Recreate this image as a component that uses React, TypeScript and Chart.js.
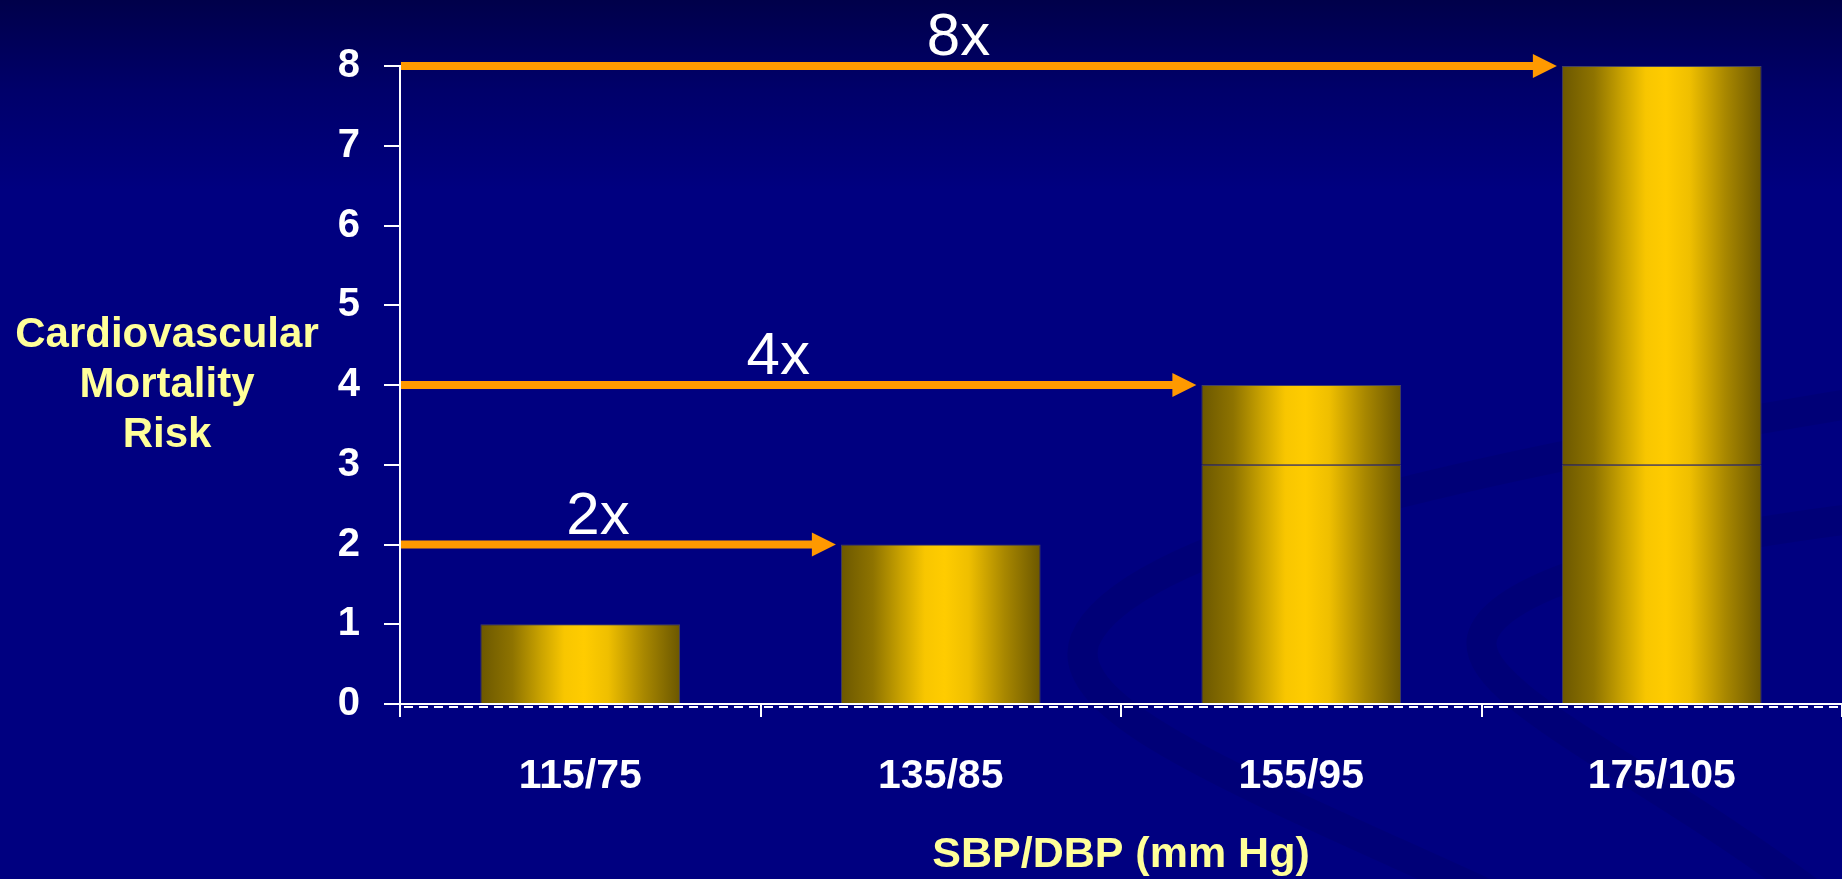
import React, { useEffect, useRef } from "react";
import { Chart, registerables } from "chart.js";

Chart.register(...registerables);

// Blood-pressure categories and the stacked risk segments for each one
const categories = ["115/75", "135/85", "155/95", "175/105"];
const lowerSegment = [1, 2, 3, 3];
const upperSegment = [null, null, 1, 5];
const yTickValues = [0, 1, 2, 3, 4, 5, 6, 7, 8];
// categories that get a "times baseline" arrow
const arrowTargets = [1, 2, 3];
const yTitleLines = ["Cardiovascular", "Mortality", "Risk"];
const xTitleText = "SBP/DBP (mm Hg)";

const FONT = '"Liberation Sans", Arial, Helvetica, sans-serif';
const BAR_PCT = 0.554;
const ORANGE = "#FF9900";
const TITLE_YELLOW = "#FFFF99";

const totals = categories.map((_, i) => (lowerSegment[i] ?? 0) + (upperSegment[i] ?? 0));

function goldFill(ctx: any) {
  const chart = ctx.chart;
  const xs = chart.scales?.x;
  if (!xs || ctx.type !== "data" || !xs.width) return "#e0b000";
  const catW = xs.width / categories.length;
  const w = catW * BAR_PCT;
  const cx = xs.getPixelForValue(ctx.dataIndex);
  const g = chart.ctx.createLinearGradient(cx - w / 2, 0, cx + w / 2, 0);
  g.addColorStop(0, "#6c5800");
  g.addColorStop(0.16, "#8e7300");
  g.addColorStop(0.3, "#c9a200");
  g.addColorStop(0.42, "#f8c600");
  g.addColorStop(0.52, "#ffcc00");
  g.addColorStop(0.64, "#efbf00");
  g.addColorStop(0.82, "#a88700");
  g.addColorStop(1, "#6b5700");
  return g;
}

const decorPlugin = {
  id: "slideDecor",
  beforeDraw(chart: any) {
    const { ctx } = chart;
    ctx.save();
    ctx.lineCap = "round";
    ctx.strokeStyle = "rgba(0,0,60,0.13)";
    ctx.lineWidth = 30;
    // faint background swooshes
    ctx.beginPath();
    ctx.moveTo(1842, 405);
    ctx.bezierCurveTo(1450, 470, 1125, 545, 1085, 640);
    ctx.bezierCurveTo(1058, 712, 1250, 785, 1500, 900);
    ctx.stroke();
    ctx.beginPath();
    ctx.moveTo(1842, 520);
    ctx.bezierCurveTo(1650, 545, 1495, 585, 1482, 638);
    ctx.bezierCurveTo(1470, 695, 1650, 770, 1820, 900);
    ctx.stroke();
    ctx.restore();
  },
  afterDraw(chart: any) {
    const { ctx, chartArea: area } = chart;
    const ys = chart.scales.y;
    const meta = chart.getDatasetMeta(0);

    ctx.save();
    // dashed rule just under the category axis
    ctx.strokeStyle = "#ffffff";
    ctx.lineWidth = 2;
    ctx.setLineDash([9, 6]);
    ctx.beginPath();
    ctx.moveTo(area.left + 4, area.bottom + 3);
    ctx.lineTo(area.right, area.bottom + 3);
    ctx.stroke();
    ctx.setLineDash([]);

    // arrows from the axis to each bar, labelled with the multiple of the first bar
    const base = totals[0];
    arrowTargets.forEach((i) => {
      const total = totals[i];
      const y = ys.getPixelForValue(total);
      const el = meta.data[i];
      const left = el.x - el.width / 2;
      const tip = left - 5;
      const headLen = 24;
      const headHalf = 12;
      ctx.strokeStyle = ORANGE;
      ctx.fillStyle = ORANGE;
      ctx.lineWidth = 8;
      ctx.beginPath();
      ctx.moveTo(area.left + 1, y);
      ctx.lineTo(tip - headLen + 2, y);
      ctx.stroke();
      ctx.beginPath();
      ctx.moveTo(tip, y);
      ctx.lineTo(tip - headLen, y - headHalf);
      ctx.lineTo(tip - headLen, y + headHalf);
      ctx.closePath();
      ctx.fill();

      ctx.fillStyle = "#ffffff";
      ctx.font = `400 60px ${FONT}`;
      ctx.textAlign = "center";
      ctx.textBaseline = "alphabetic";
      ctx.fillText(`${total / base}x`, (area.left + tip) / 2 - 20, y - 11);
    });

    // multi-line vertical-axis title
    ctx.fillStyle = TITLE_YELLOW;
    ctx.font = `700 42px ${FONT}`;
    ctx.textAlign = "center";
    ctx.textBaseline = "middle";
    const cy = (area.top + area.bottom) / 2;
    const lh = 50;
    yTitleLines.forEach((line, k) => {
      ctx.fillText(line, area.left - 233, cy + (k - (yTitleLines.length - 1) / 2) * lh);
    });
    ctx.restore();
  },
};

export default function App() {
  const canvasRef = useRef<HTMLCanvasElement | null>(null);

  useEffect(() => {
    if (!canvasRef.current) return;
    Chart.defaults.font.family = FONT;
    const chart = new Chart(canvasRef.current, {
      type: "bar",
      data: {
        labels: categories,
        datasets: [
          {
            label: "lower",
            data: lowerSegment,
            backgroundColor: goldFill,
            borderColor: "rgba(72,68,96,0.95)",
            borderWidth: 1,
            barPercentage: BAR_PCT,
            categoryPercentage: 1,
          },
          {
            label: "upper",
            data: upperSegment,
            backgroundColor: goldFill,
            borderColor: "rgba(72,68,96,0.95)",
            borderWidth: 1,
            barPercentage: BAR_PCT,
            categoryPercentage: 1,
          },
        ],
      },
      options: {
        animation: false,
        responsive: true,
        maintainAspectRatio: false,
        layout: { padding: { top: 66, left: 0, right: 0, bottom: 0 } },
        plugins: {
          legend: { display: false },
          tooltip: { enabled: false },
        },
        scales: {
          x: {
            stacked: true,
            offset: true,
            afterFit: (s: any) => {
              s.height = 175;
            },
            grid: {
              display: true,
              drawOnChartArea: false,
              drawTicks: true,
              tickLength: 13,
              color: "#ffffff",
              lineWidth: 2,
              offset: true,
            },
            border: { display: true, color: "#ffffff", width: 2 },
            ticks: {
              color: "#ffffff",
              padding: 35,
              font: { size: 41, weight: "bold", family: FONT },
              maxRotation: 0,
              autoSkip: false,
            },
            title: {
              display: true,
              text: xTitleText,
              color: TITLE_YELLOW,
              font: { size: 43, weight: "bold", family: FONT, lineHeight: 1 },
              padding: { top: 0, bottom: 2 },
            },
          },
          y: {
            stacked: true,
            min: 0,
            max: 8,
            afterFit: (s: any) => {
              s.width = 400;
            },
            afterBuildTicks: (s: any) => {
              s.ticks = yTickValues.map((v) => ({ value: v }));
            },
            grid: {
              display: true,
              drawOnChartArea: false,
              drawTicks: true,
              tickLength: 16,
              color: "#ffffff",
              lineWidth: 2,
            },
            border: { display: true, color: "#ffffff", width: 2 },
            ticks: {
              color: "#ffffff",
              padding: 24,
              font: { size: 40, weight: "bold", family: FONT },
            },
          },
        },
      },
      plugins: [decorPlugin],
    });
    return () => chart.destroy();
  }, []);

  return (
    <div
      style={{
        position: "fixed",
        left: 0,
        top: 0,
        width: "100vw",
        height: "100vh",
        background: "linear-gradient(180deg, #00004a 0px, #00006a 90px, #000080 190px, #000080 100%)",
      }}
    >
      <canvas ref={canvasRef} />
    </div>
  );
}
